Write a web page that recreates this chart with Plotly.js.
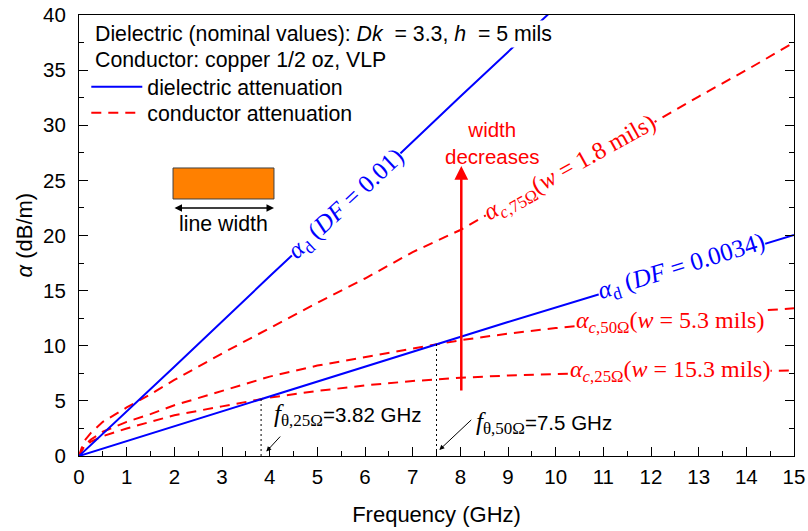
<!DOCTYPE html>
<html>
<head>
<meta charset="utf-8">
<script src="https://cdn.plot.ly/plotly-3.0.1.min.js"></script>
<style>html,body{margin:0;padding:0;background:#fff;}#chart{width:808px;height:531px;}</style>
</head>
<body>
<div id="chart"></div>
<script>
// ---- data ----
const freqDielA = [0, 2, 4, 6, 8, 10];
const alphaD_DF001 = [0, 8.1, 16.3, 24.4, 32.6, 40.7];
const freqDielB = [0, 3, 6, 9, 12, 15];
const alphaD_DF0034 = [0, 4.05, 8.1, 12.15, 16.1, 20.05];

const freqCond = [0, 0.1, 0.25, 0.5, 1, 1.5, 2, 3, 4, 5, 6, 7, 8, 9, 10, 11, 12, 13, 14, 15];
const alphaC75 = [0, 1.3, 2.1, 3.1, 4.4, 5.6, 6.9, 9.3, 11.6, 13.9, 16.1, 18.5, 20.5, 23.0, 25.4, 27.7, 30.1, 32.6, 35.0, 37.5];
const alphaC50 = [0, 0.9, 1.5, 2.2, 3.1, 3.8, 4.6, 5.9, 7.2, 8.2, 9.0, 9.75, 10.5, 11.1, 11.6, 12.0, 12.4, 12.8, 13.1, 13.4];
const alphaC25 = [0, 0.8, 1.3, 1.8, 2.5, 3.1, 3.7, 4.5, 5.3, 5.9, 6.4, 6.8, 7.1, 7.3, 7.45, 7.55, 7.6, 7.65, 7.7, 7.75];

const fTheta = [3.82, 7.5];
const alphaTheta = [5.16, 10.15];

const xTickVals = [0,1,2,3,4,5,6,7,8,9,10,11,12,13,14,15];
const yTickVals = [0,5,10,15,20,25,30,35,40];

const SANS = "Arial, 'Liberation Sans', sans-serif";
const SERIF = "'Times New Roman', 'Liberation Serif', serif";
const BLUE = '#0000ff';
const RED = '#ff0000';
const DASH = '10px,7px';
const TXT = 21.3;

const traces = [
  {x: freqCond, y: alphaC25, mode: 'lines', line: {color: RED, width: 2, dash: DASH}, showlegend: false},
  {x: freqCond, y: alphaC50, mode: 'lines', line: {color: RED, width: 2, dash: DASH}, showlegend: false},
  {x: freqCond, y: alphaC75, mode: 'lines', line: {color: RED, width: 2, dash: DASH}, name: 'conductor attenuation', legend: 'legend2'},
  {x: freqDielB, y: alphaD_DF0034, mode: 'lines', line: {color: BLUE, width: 2}, showlegend: false},
  {x: freqDielA, y: alphaD_DF001, mode: 'lines', line: {color: BLUE, width: 2}, name: 'dielectric attenuation', legend: 'legend'},
  {x: [fTheta[0], fTheta[0]], y: [0, alphaTheta[0]], mode: 'lines', line: {color: 'black', width: 1, dash: '2px,3px'}, showlegend: false},
  {x: [fTheta[1], fTheta[1]], y: [0, alphaTheta[1]], mode: 'lines', line: {color: 'black', width: 1, dash: '2px,3px'}, showlegend: false}
];

const lblFont = (c, s) => ({family: SERIF, size: s, color: c});
const fLabel = (sub, rest) =>
  '<span style="font-family:\'Liberation Serif\';font-style:italic;font-size:25px">f</span>' +
  '<sub><span style="font-family:\'Liberation Serif\';font-size:17px">' + sub + '</span></sub>' + rest;

const annotations = [
  {x: -0.0769, y: 0.5, xref: 'paper', yref: 'paper', xanchor: 'center', yanchor: 'middle', showarrow: false,
   textangle: -90, text: '<i>α</i> (dB/m)', font: {family: SANS, size: 22, color: 'black'}},
  {x: 0.0196, y: 0.9569, xref: 'paper', yref: 'paper', xanchor: 'left', yanchor: 'middle', showarrow: false,
   text: 'Dielectric (nominal values): <i>Dk</i>  = 3.3, <i>h</i>  = 5 mils', font: {family: SANS, size: TXT, color: 'black'},
   bgcolor: 'white', borderpad: 1},
  {x: 0.0196, y: 0.898, xref: 'paper', yref: 'paper', xanchor: 'left', yanchor: 'middle', showarrow: false,
   text: 'Conductor: copper 1/2 oz, VLP', font: {family: SANS, size: TXT, color: 'black'},
   bgcolor: 'white', borderpad: 1},
  {x: 5.61, y: 22.85, xref: 'x', yref: 'y', showarrow: false, textangle: -43,
   text: '<i>α</i><sub>d</sub> (<i>DF</i> = 0.01)', font: lblFont(BLUE, 25), bgcolor: 'white', borderpad: 0},
  {x: 10.3, y: 26.1, xref: 'x', yref: 'y', showarrow: false, textangle: -29,
   text: '<i>α</i><sub><i>c</i>,75Ω</sub>(<i>w</i> = 1.8 mils)', font: lblFont(RED, 24.5), bgcolor: 'white', borderpad: 0},
  {x: 12.65, y: 17.1, xref: 'x', yref: 'y', showarrow: false, textangle: -17,
   text: '<i>α</i><sub>d</sub> (<i>DF</i> = 0.0034)', font: lblFont(BLUE, 25), bgcolor: 'white', borderpad: 0},
  {x: 12.4, y: 12.15, xref: 'x', yref: 'y', showarrow: false,
   text: '<i>α</i><sub><i>c</i>,50Ω</sub>(<i>w</i> = 5.3 mils)', font: lblFont(RED, 24), bgcolor: 'white', borderpad: 0},
  {x: 12.4, y: 7.7, xref: 'x', yref: 'y', showarrow: false,
   text: '<i>α</i><sub><i>c</i>,25Ω</sub>(<i>w</i> = 15.3 mils)', font: lblFont(RED, 24), bgcolor: 'white', borderpad: 0},
  {x: 8.67, y: 28.4, xref: 'x', yref: 'y', showarrow: false,
   text: 'width<br>decreases', font: {family: SANS, size: 20.5, color: RED}},
  {x: 8.02, y: 26.3, ax: 8.02, ay: 5.8, xref: 'x', yref: 'y', axref: 'x', ayref: 'y',
   showarrow: true, text: '', arrowhead: 2, arrowsize: 1.1, arrowwidth: 2.5, arrowcolor: RED},
  {x: 4.04, y: 3.7, xref: 'x', yref: 'y', xanchor: 'left', showarrow: false,
   text: fLabel('θ,25Ω', '=3.82 GHz'), font: {family: SANS, size: 20.5, color: 'black'}},
  {x: 8.28, y: 2.95, xref: 'x', yref: 'y', xanchor: 'left', showarrow: false,
   text: fLabel('θ,50Ω', '=7.5 GHz'), font: {family: SANS, size: 20.5, color: 'black'}},
  {x: 3.93, y: 0.4, ax: 4.25, ay: 1.9, xref: 'x', yref: 'y', axref: 'x', ayref: 'y',
   showarrow: true, text: '', arrowhead: 2, arrowsize: 1, arrowwidth: 1, arrowcolor: 'black'},
  {x: 7.56, y: 0.55, ax: 8.26, ay: 3.4, xref: 'x', yref: 'y', axref: 'x', ayref: 'y',
   showarrow: true, text: '', arrowhead: 2, arrowsize: 1, arrowwidth: 1, arrowcolor: 'black'},
  {x: 0.2727, y: 0.5624, xref: 'paper', yref: 'paper', ax: -101, ay: 0,
   showarrow: true, text: '', arrowside: 'end+start', arrowhead: 2, startarrowhead: 2,
   arrowsize: 1, startarrowsize: 1, arrowwidth: 1.5, arrowcolor: 'black'},
  {x: 0.2021, y: 0.526, xref: 'paper', yref: 'paper', xanchor: 'center', yanchor: 'middle', showarrow: false,
   text: 'line width', font: {family: SANS, size: TXT, color: 'black'}}
];

const legendBase = {
  xanchor: 'left', yanchor: 'middle', bgcolor: 'rgba(255,255,255,0)', borderwidth: 0,
  font: {family: SANS, size: TXT, color: 'black'}, itemwidth: 51
};

const layout = {
  width: 808, height: 531,
  margin: {l: 79, r: 14, t: 15, b: 75},
  paper_bgcolor: 'white', plot_bgcolor: 'white',
  font: {family: SANS, size: 20, color: 'black'},
  xaxis: {
    range: [0, 15], tickvals: xTickVals, ticks: 'inside', ticklen: 9, tickwidth: 1, tickcolor: 'black',
    showline: true, linecolor: 'black', linewidth: 1, mirror: true, showgrid: false, zeroline: false,
    tickfont: {family: SANS, size: 20.5}, ticklabelstandoff: 2,
    minor: {dtick: 0.5, ticks: 'inside', ticklen: 5, tickcolor: 'black', showgrid: false},
    title: {text: 'Frequency (GHz)', font: {family: SANS, size: 22}, standoff: 20}
  },
  yaxis: {
    range: [0, 40], tickvals: yTickVals, ticks: 'inside', ticklen: 9, tickwidth: 1, tickcolor: 'black',
    showline: true, linecolor: 'black', linewidth: 1, mirror: 'ticks', showgrid: false, zeroline: false,
    tickfont: {family: SANS, size: 20.5}, ticklabelstandoff: 8,
    minor: {dtick: 2.5, ticks: 'inside', ticklen: 5, tickcolor: 'black', showgrid: false}
  },
  showlegend: true,
  legend: Object.assign({x: 0.0102, y: 0.8367}, legendBase),
  legend2: Object.assign({x: 0.0102, y: 0.7778}, legendBase),
  shapes: [
    {type: 'rect', xref: 'paper', yref: 'paper', x0: 0.1315, x1: 0.2727, y0: 0.5828, y1: 0.6531,
     fillcolor: '#ff8000', line: {color: '#404040', width: 1}}
  ],
  annotations: annotations
};

Plotly.newPlot('chart', traces, layout, {staticPlot: true, displayModeBar: false});
</script>
</body>
</html>
